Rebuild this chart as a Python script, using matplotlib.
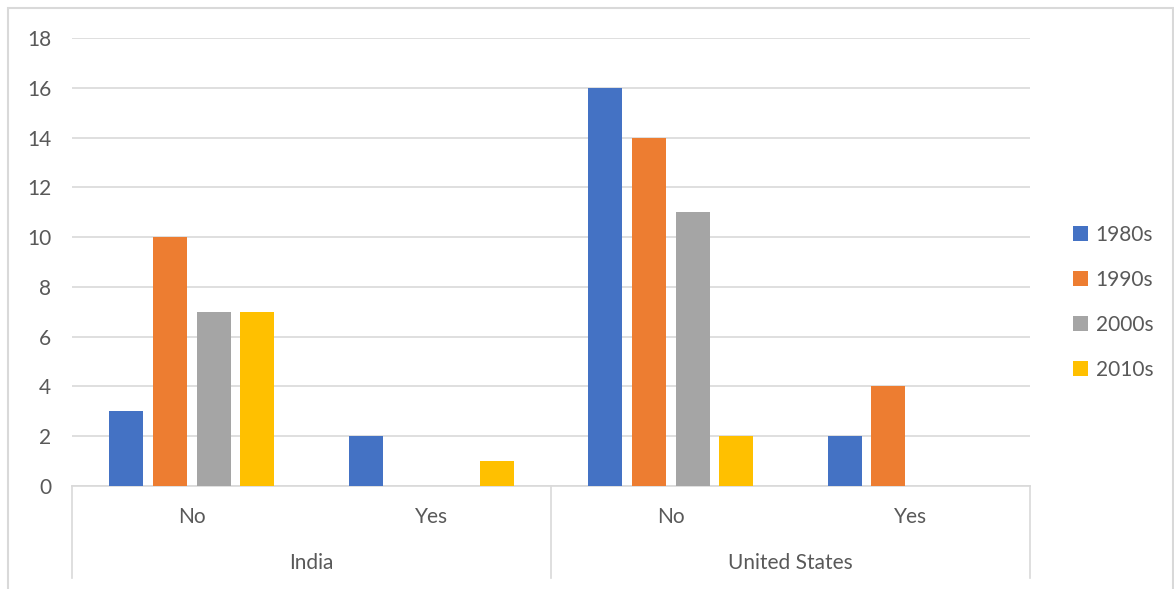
import matplotlib.pyplot as plt
from matplotlib.patches import Rectangle
import matplotlib.transforms as mtransforms

countries = ["India", "United States"]
answers = ["No", "Yes", "No", "Yes"]
series_names = ["1980s", "1990s", "2000s", "2010s"]
s1980 = [3, 2, 16, 2]
s1990 = [10, 0, 14, 4]
s2000 = [7, 0, 11, 0]
s2010 = [7, 1, 2, 0]
colors = ["#4472C4", "#ED7D31", "#A5A5A5", "#FFC000"]

plt.rcParams['font.family'] = ['Lato', 'DejaVu Sans']
txt = "#595959"
grid = "#d9d9d9"
fs = 15

fig = plt.figure(figsize=(11.74, 5.89), dpi=100)
ax = fig.add_axes([72/1174, 1-486/589, (1030-72)/1174, (486-38)/589])

pitch = 0.182
width = 0.142
xs = list(range(len(answers)))
for i, (vals, name) in enumerate(zip([s1980, s1990, s2000, s2010], series_names)):
    ax.bar([x + (i - 1.5)*pitch for x in xs], vals, width=width, color=colors[i],
           label=name, zorder=3, linewidth=0)

ax.set_xlim(-0.5, 3.5)
ax.set_ylim(0, 18)
ax.set_yticks(range(0, 19, 2))
ax.yaxis.grid(True, color=grid, linewidth=1.2, zorder=0)
for s in ["top", "right", "left"]:
    ax.spines[s].set_visible(False)
ax.spines["bottom"].set_color(grid)
ax.spines["bottom"].set_linewidth(1.2)
ax.tick_params(axis="y", length=0, pad=15, labelsize=fs, labelcolor=txt)
ax.set_xticks(xs)
ax.set_xticklabels(answers)
ax.tick_params(axis="x", length=0, pad=15, labelsize=fs, labelcolor=txt)

# second level of the category axis
trans = mtransforms.blended_transform_factory(ax.transData, ax.transAxes)
for k, c in enumerate(countries):
    ax.text(2*k + 0.5, -0.171, c, transform=trans, ha="center", va="center",
            fontsize=fs, color=txt)
for xb in [-0.5, 1.5, 3.5]:
    ax.plot([xb, xb], [0, -0.205], transform=trans, color=grid, linewidth=1.2,
            clip_on=False)

ax.legend(loc="center left", bbox_to_anchor=(1.025, 0.41), frameon=False,
          fontsize=fs, labelcolor=txt, handlelength=0.75, handleheight=0.75,
          handletextpad=0.35, labelspacing=1.2)

fig.patches.append(Rectangle((8/1174, -0.1), 1165/1174, 1.1 - 8/589,
                             transform=fig.transFigure, fill=False,
                             edgecolor=grid, linewidth=1.5))

plt.savefig("out.png", dpi=100)
